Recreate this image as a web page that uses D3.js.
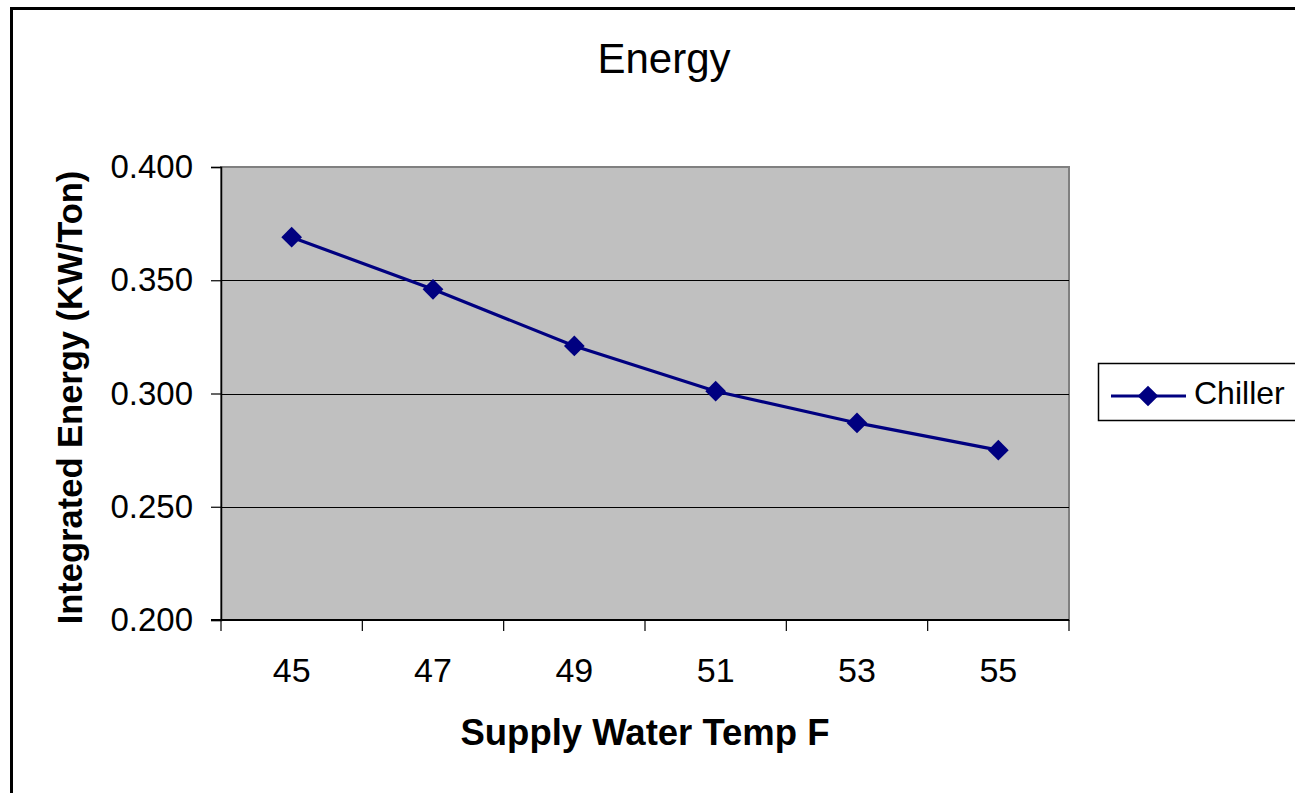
<!DOCTYPE html>
<html><head><meta charset="utf-8">
<script src="https://cdn.jsdelivr.net/npm/d3@7"></script>
<style>
html,body{margin:0;padding:0;background:#fff;overflow:hidden}
text{font-family:"Liberation Sans",Arial,sans-serif;fill:#000}
</style></head>
<body><svg id="c" width="1295" height="793"></svg>
<script>
const categories = ["45","47","49","51","53","55"];
const chillerValues = [0.369, 0.346, 0.321, 0.301, 0.287, 0.275];
const yTicks = [0.200, 0.250, 0.300, 0.350, 0.400];
const titleText = "Energy";
const xTitle = "Supply Water Temp F";
const yTitle = "Integrated Energy (KW/Ton)";
const seriesName = "Chiller";

const svg = d3.select("#c");
const W = 1295, H = 793;
const plot = {l: 221, t: 167, r: 1069, b: 620};
const navy = "#000080";

// outer chart border
svg.append("rect").attr("x", 11.5).attr("y", 8.5).attr("width", W + 20).attr("height", H + 20)
  .attr("fill", "#fff").attr("stroke", "#000").attr("stroke-width", 3);

const x = d3.scaleBand().domain(categories).range([plot.l, plot.r]).padding(0);
const y = d3.scaleLinear().domain([0.2, 0.4]).range([plot.b, plot.t]);

// plot area
svg.append("rect").attr("x", plot.l).attr("y", plot.t).attr("width", plot.r - plot.l).attr("height", plot.b - plot.t)
  .attr("fill", "#c0c0c0").attr("stroke", "#808080").attr("stroke-width", 2);

// gridlines
svg.append("g").selectAll("line").data(yTicks.filter(v => v > 0.2 && v < 0.4)).join("line")
  .attr("x1", plot.l).attr("x2", plot.r).attr("y1", d => Math.round(y(d)) + 0.5).attr("y2", d => Math.round(y(d)) + 0.5)
  .attr("stroke", "#000").attr("stroke-width", 1.2);

// y axis
const yAxis = d3.axisLeft(y).tickValues(yTicks).tickFormat(d3.format(".3f")).tickSize(10).tickPadding(18);
const gy = svg.append("g").attr("transform", `translate(${plot.l},0)`).call(yAxis);
gy.select(".domain").attr("stroke", "#000").attr("stroke-width", 1.5);
gy.selectAll(".tick line").attr("stroke", "#000").attr("stroke-width", 1.2);
gy.selectAll(".tick text").attr("font-size", 33).attr("font-family", "Liberation Sans, Arial, sans-serif").attr("fill", "#000");

// x axis with ticks at band boundaries
const gx = svg.append("g").attr("transform", `translate(0,${plot.b})`);
gx.append("line").attr("x1", plot.l - 10).attr("x2", plot.r).attr("y1", 0).attr("y2", 0).attr("stroke", "#000").attr("stroke-width", 2);
const bounds = categories.map(c => x(c)).concat([x(categories[categories.length - 1]) + x.bandwidth()]);
gx.selectAll("line.tk").data(bounds).join("line").attr("class", "tk")
  .attr("x1", d => d).attr("x2", d => d).attr("y1", 0).attr("y2", 11).attr("stroke", "#000").attr("stroke-width", 1.2);
gx.selectAll("text").data(categories).join("text")
  .attr("x", d => x(d) + x.bandwidth() / 2).attr("y", 62).attr("text-anchor", "middle")
  .attr("font-size", 34).text(d => d);

// line + markers
const line = d3.line().x((d, i) => x(categories[i]) + x.bandwidth() / 2).y(d => y(d));
svg.append("path").datum(chillerValues).attr("d", line).attr("fill", "none").attr("stroke", navy).attr("stroke-width", 3.2);
const diamond = d3.symbol(d3.symbolSquare, 215);
svg.append("g").selectAll("path").data(chillerValues).join("path")
  .attr("d", diamond)
  .attr("transform", (d, i) => `translate(${x(categories[i]) + x.bandwidth() / 2},${y(d)}) rotate(45)`)
  .attr("fill", navy);

// title
svg.append("text").attr("x", 664).attr("y", 73).attr("text-anchor", "middle").attr("font-size", 42).text(titleText);
// axis titles
svg.append("text").attr("x", (plot.l + plot.r) / 2).attr("y", 745).attr("text-anchor", "middle")
  .attr("font-size", 36.5).attr("font-weight", "bold").text(xTitle);
svg.append("text").attr("transform", `translate(82,${(plot.t + plot.b) / 2 + 4}) rotate(-90)`).attr("text-anchor", "middle")
  .attr("font-size", 34.5).attr("font-weight", "bold").text(yTitle);

// legend
const lg = svg.append("g");
lg.append("rect").attr("x", 1098.5).attr("y", 363.5).attr("width", 300).attr("height", 57)
  .attr("fill", "#fff").attr("stroke", "#000").attr("stroke-width", 1.5);
lg.append("line").attr("x1", 1111).attr("x2", 1186).attr("y1", 396).attr("y2", 396).attr("stroke", navy).attr("stroke-width", 3);
lg.append("path").attr("d", diamond).attr("transform", "translate(1148,396) rotate(45)").attr("fill", navy);
lg.append("text").attr("x", 1194).attr("y", 404).attr("font-size", 32).text(seriesName);
</script></body></html>
